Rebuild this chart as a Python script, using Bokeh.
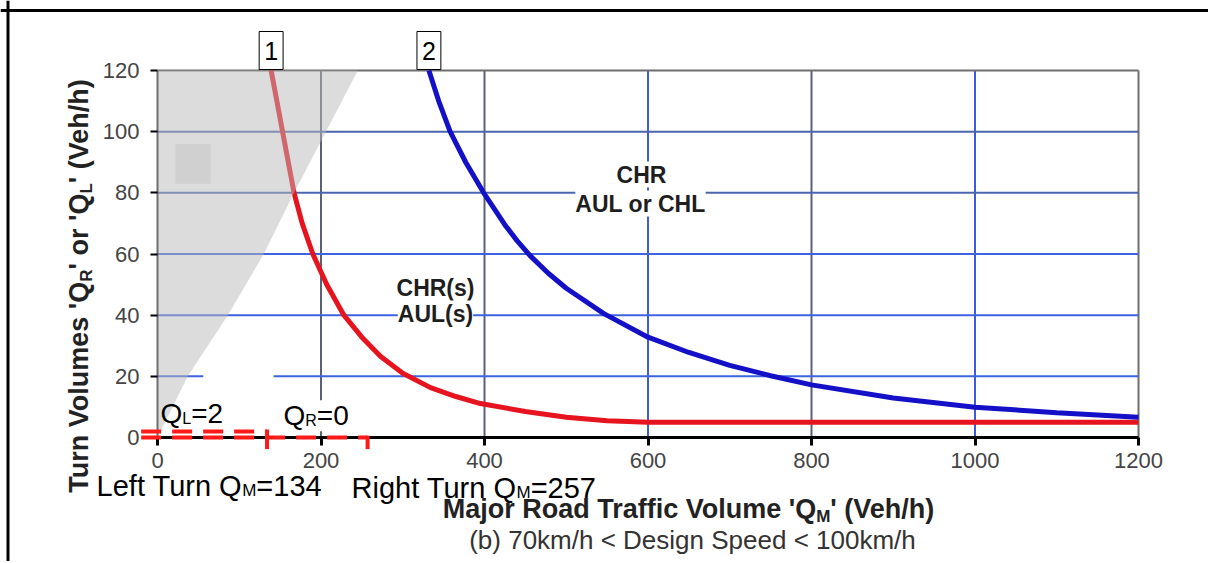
import math
from bokeh.plotting import figure
from bokeh.models import FixedTicker, Label, Span, Range1d
from bokeh.embed import file_html
from bokeh.resources import INLINE

# ---------------- data ----------------
x_ticks = [0, 200, 400, 600, 800, 1000, 1200]
y_ticks = [0, 20, 40, 60, 80, 100, 120]

# curve 1 (red)
red_x = [139, 146, 153, 160, 167, 177, 190, 207, 228, 250, 273, 300, 334, 365, 395, 450, 500, 550, 600, 700, 800, 900, 1000, 1100, 1200]
red_y = [120, 110, 100, 90, 80, 70, 60, 50, 40, 32.8, 26.5, 21, 16.3, 13.4, 11.1, 8.5, 6.6, 5.5, 5, 5, 5, 5, 5, 5, 5]

# curve 2 (blue)
blue_x = [332, 344, 358, 377, 399, 425, 440, 456, 478, 500, 546, 600, 650, 700, 750, 800, 900, 1000, 1100, 1200]
blue_y = [120, 110, 100, 90, 80, 69.5, 64.3, 59.4, 53.7, 48.8, 40.5, 32.8, 27.8, 23.6, 20.2, 17.2, 12.9, 9.9, 8.1, 6.6]

# shaded zone boundary
zone_x = [0, 37, 86, 130, 167, 206, 245, 0]
zone_y = [0, 20, 40, 60, 80, 100, 120, 120]

# case values
q_left, qm_left = 2, 134
q_right, qm_right = 0, 257

# ---------------- layout ----------------
W, H = 1208, 561
SX = 981 / 1200.0          # px per unit (x)
SY = 367 / 120.0           # px per unit (y)
X0 = -157 / SX
X1 = X0 + W / SX
Y1 = 120 + 70 / SY
Y0 = Y1 - H / SY


def xd(px):
    return X0 + px / SX


def yd(py):
    return Y1 - py / SY


FONT = "Liberation Sans"
BASE_K = 0.386   # baseline correction (fraction of font size)

REG = {' ': 278, "'": 191, '(': 333, ')': 333, '/': 278, '<': 584, '=': 584,
       'A': 667, 'C': 722, 'D': 722, 'H': 722, 'L': 556, 'M': 833, 'Q': 778, 'R': 722,
       'S': 667, 'T': 611, 'U': 722, 'V': 667, 'a': 556, 'b': 556, 'c': 500, 'd': 556,
       'e': 556, 'f': 278, 'g': 556, 'h': 556, 'i': 222, 'j': 222, 'k': 500, 'l': 222,
       'm': 833, 'n': 556, 'o': 556, 'p': 556, 'r': 333, 's': 500, 't': 278, 'u': 556, 'v': 500}
BOLD = {' ': 278, "'": 238, '(': 333, ')': 333, '/': 278,
        'A': 722, 'C': 722, 'H': 722, 'L': 611, 'M': 833, 'Q': 778, 'R': 722, 'T': 611,
        'U': 722, 'V': 667, 'a': 556, 'c': 556, 'd': 611, 'e': 556, 'f': 333, 'h': 611,
        'i': 278, 'j': 278, 'l': 278, 'm': 889, 'o': 611, 'r': 389, 's': 556, 'u': 611}


def tw(s, size, bold=False):
    t = BOLD if bold else REG
    return sum(t.get(c, 556) for c in s) * size / 1000.0


p = figure(width=W, height=H, x_range=Range1d(X0, X1), y_range=Range1d(Y0, Y1),
           output_backend="svg", toolbar_location=None, min_border=0)
p.outline_line_color = None
p.grid.visible = False
p.background_fill_color = "white"
p.border_fill_color = "white"

# gridlines (vertical then horizontal)
v_colors = ["#5a6278", "#5a6278", "#3d5ae0", "#5a6278", "#3d5ae0", "#6e6e6e"]
h_colors = ["#3d63e0", "#3d63e0", "#3d63e0", "#4a64b0", "#4a64b0", "#6e6e6e"]
p.segment(x0=x_ticks[1:], y0=[y_ticks[0]] * 6, x1=x_ticks[1:], y1=[y_ticks[-1]] * 6,
          line_color=v_colors, line_width=2)
p.segment(x0=[x_ticks[0]] * 6, y0=y_ticks[1:], x1=[x_ticks[-1]] * 6, y1=y_ticks[1:],
          line_color=h_colors, line_width=2)

# masked (covered-up) area of the original sheet
p.quad(left=[56], right=[142], bottom=[9], top=[26], fill_color="white", line_color=None)

# curves
p.line(red_x, red_y, line_color="#e6141e", line_width=5)
p.patch(zone_x, zone_y, fill_color="#b9b9b9", fill_alpha=0.5, line_color=None)
p.quad(left=[22], right=[65], bottom=[83], top=[96], fill_color="#c4c4c4", fill_alpha=0.5, line_color=None)
p.line(blue_x, blue_y, line_color="#1410c8", line_width=5)

# axes
for ax in p.xaxis:
    ax.fixed_location = 0
    ax.bounds = (0, 1200)
    ax.ticker = FixedTicker(ticks=x_ticks)
    ax.axis_line_color = "black"
    ax.axis_line_width = 3
    ax.major_tick_line_color = "black"
    ax.major_tick_line_width = 3
    ax.major_tick_in = 0
    ax.major_tick_out = 8
    ax.minor_tick_line_color = None
    ax.major_label_text_font = FONT
    ax.major_label_text_font_size = "22px"
    ax.major_label_text_color = "#444444"
    ax.major_label_standoff = 7
for ax in p.yaxis:
    ax.fixed_location = 0
    ax.bounds = (0, 120)
    ax.ticker = FixedTicker(ticks=y_ticks)
    ax.axis_line_color = "#6e6e6e"
    ax.axis_line_width = 2
    ax.major_tick_line_color = "black"
    ax.major_tick_line_width = 2
    ax.major_tick_in = 0
    ax.major_tick_out = 7
    ax.minor_tick_line_color = None
    ax.major_label_text_font = FONT
    ax.major_label_text_font_size = "22px"
    ax.major_label_text_color = "#444444"
    ax.major_label_standoff = 11

# sheet border (left and top edges)
p.add_layout(Span(location=xd(7.5), dimension="height", line_color="black", line_width=3))
p.add_layout(Span(location=yd(10), dimension="width", line_color="black", line_width=3))


def _lab(x, y, t, s, bold, color, align, angle=0.0, bg=None):
    p.add_layout(Label(x=x, y=y, text=t, angle=angle, text_font=FONT,
                       text_font_size=f"{s}px", text_font_style="bold" if bold else "normal",
                       text_color=color, text_align=align, text_baseline="alphabetic",
                       background_fill_color=bg))


def add_run(pieces, x_px, base_py, bold=False, color="black", center=False, bg=None):
    widths = [tw(t, s, bold) for t, s, _ in pieces]
    x = (x_px - sum(widths) / 2 if center else x_px) + widths[0]
    t, s, dy = pieces[0]
    _lab(xd(x), yd(base_py + dy - BASE_K * s), t, s, bold, color, "right", bg=bg)
    for (t, s, dy), w in zip(pieces[1:], widths[1:]):
        _lab(xd(x), yd(base_py + dy - BASE_K * s), t, s, bold, color, "left", bg=bg)
        x += w


def add_vrun(pieces, base_px, center_py, bold=False, color="black"):
    widths = [tw(t, s, bold) for t, s, _ in pieces]
    y = center_py + sum(widths) / 2 - widths[0]
    t, s, d = pieces[0]
    _lab(xd(base_px + d - BASE_K * s), yd(y), t, s, bold, color, "right", angle=math.pi / 2)
    for (t, s, d), w in zip(pieces[1:], widths[1:]):
        _lab(xd(base_px + d - BASE_K * s), yd(y), t, s, bold, color, "left", angle=math.pi / 2)
        y -= w


# axis titles
add_run([("Major Road Traffic Volume 'Q", 27, 0), ("M", 17, 4), ("' (Veh/h)", 27, 0)],
        687, 519, bold=True, color="#222222", center=True)
add_run([("(b) 70km/h < Design Speed < 100km/h", 26, 0)], 692, 550, color="#333333", center=True)
add_vrun([("Turn Volumes 'Q", 27, 0), ("R", 17, 4), ("' or 'Q", 27, 0), ("L", 17, 4), ("' (Veh/h)", 27, 0)],
         89, 286, bold=True, color="#222222")

# region labels
for txt, cx, by in (("CHR(s)", 435, 296), ("AUL(s)", 435, 322), ("CHR", 641, 183), ("AUL or CHL", 640, 212)):
    _lab(xd(cx), yd(by - BASE_K * 23), txt, 23, True, "#1e1e1e", "center", bg="white")

# curve number boxes
for txt, cx in (("1", red_x[0]), ("2", blue_x[0])):
    p.add_layout(Label(x=cx, y=yd(50), text=txt, text_font=FONT, text_font_size="25px",
                       text_color="black", text_align="center", text_baseline="middle",
                       background_fill_color="white", border_line_color="black", border_line_width=1,
                       padding=dict(left=5, right=5, top=10, bottom=10)))

# case annotations
add_run([("Q", 28, 0), ("L", 16, 0), (f"={q_left}", 28, 0)], 160, 424)
add_run([("Q", 28, 0), ("R", 16, 0), (f"={q_right}", 28, 0)], 283, 426, bg="white")
add_run([("Left Turn Q", 29, 0), ("M", 17, 0), (f"={qm_left}", 29, 0)], 95, 497)
add_run([("Right Turn Q", 29, 0), ("M", 17, 0), (f"={qm_right}", 29, 0)], 350, 499)

# dashed reference lines (drawn on top of everything)
for q, qm in ((q_left, qm_left), (q_right, qm_right)):
    r1 = p.line([-20, qm], [q, q], line_color="#ff1a1a", line_width=4, line_dash="20 11")
    r2 = p.segment(x0=[qm], y0=[q + 0.6], x1=[qm], y1=[-3.8], line_color="#ff1a1a", line_width=4)
    r1.level = "overlay"
    r2.level = "overlay"

open("out.html", "w").write(file_html(p, INLINE))
